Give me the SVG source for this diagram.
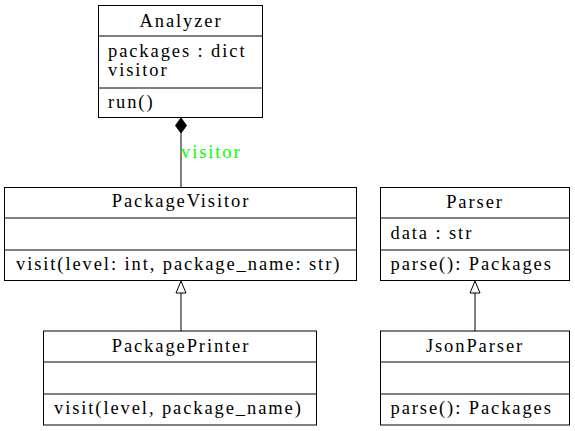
<svg xmlns="http://www.w3.org/2000/svg" width="575" height="431" viewBox="0 0 575 431">
<style>
.box{fill:#fff;stroke:#000;stroke-width:1}
.div{stroke:#000;stroke-width:1}
.t{font-family:'Liberation Serif',serif;font-size:18.5px;letter-spacing:1.9px;fill:#000}
.c{text-anchor:middle}
.lbl{fill:#00ff00}
.edge{stroke:#000;stroke-width:1;fill:none}
</style>
<rect width="575" height="431" fill="#fff"/>
<g id="connectors">
<line class="edge" x1="181" y1="133" x2="181" y2="187"/>
<polygon points="181,118 186.5,125.5 181,133 175.5,125.5" fill="#000" stroke="#000"/>
<text class="t lbl" x="181" y="158">visitor</text>
<line class="edge" x1="181" y1="293" x2="181" y2="331"/>
<polygon points="181,281 186,293 176,293" fill="#fff" stroke="#000"/>
<line class="edge" x1="475" y1="293" x2="475" y2="331"/>
<polygon points="475,281 480,293 470,293" fill="#fff" stroke="#000"/>
</g>
<g id="Analyzer">
<rect class="box" x="98.5" y="5.5" width="164" height="112"/>
<line class="div" x1="98.5" y1="36" x2="262.5" y2="36"/>
<line class="div" x1="98.5" y1="88" x2="262.5" y2="88"/>
<text class="t c" x="181" y="26.5">Analyzer</text>
<text class="t" x="108" y="56.5">packages : dict</text>
<text class="t" x="108" y="76">visitor</text>
<text class="t" x="108" y="108">run()</text>
</g>
<g id="PackageVisitor">
<rect class="box" x="4.5" y="187.5" width="352" height="93"/>
<line class="div" x1="4.5" y1="218" x2="356.5" y2="218"/>
<line class="div" x1="4.5" y1="250" x2="356.5" y2="250"/>
<text class="t c" x="181" y="207">PackageVisitor</text>
<text class="t" x="16" y="270">visit(level: int, package_name: str)</text>
</g>
<g id="PackagePrinter">
<rect class="box" x="43.5" y="331" width="273" height="94"/>
<line class="div" x1="43.5" y1="362" x2="316.5" y2="362"/>
<line class="div" x1="43.5" y1="394" x2="316.5" y2="394"/>
<text class="t c" x="181" y="352">PackagePrinter</text>
<text class="t" x="54" y="413.5">visit(level, package_name)</text>
</g>
<g id="Parser">
<rect class="box" x="380.5" y="187.5" width="189" height="93"/>
<line class="div" x1="380.5" y1="218" x2="569.5" y2="218"/>
<line class="div" x1="380.5" y1="250" x2="569.5" y2="250"/>
<text class="t c" x="475" y="207.5">Parser</text>
<text class="t" x="390.5" y="238.5">data : str</text>
<text class="t" x="390.5" y="270">parse(): Packages</text>
</g>
<g id="JsonParser">
<rect class="box" x="380.5" y="331" width="189" height="94"/>
<line class="div" x1="380.5" y1="362" x2="569.5" y2="362"/>
<line class="div" x1="380.5" y1="394" x2="569.5" y2="394"/>
<text class="t c" x="475" y="352">JsonParser</text>
<text class="t" x="390.5" y="413.5">parse(): Packages</text>
</g>
</svg>
